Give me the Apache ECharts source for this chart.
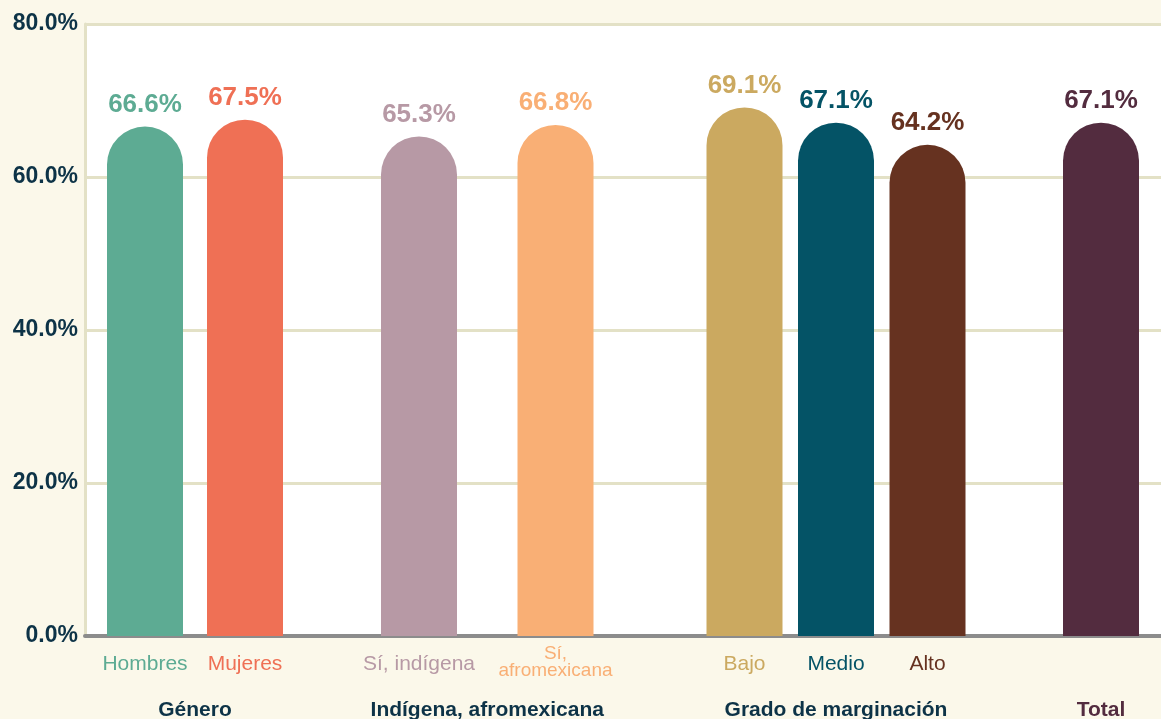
<!DOCTYPE html>
<html>
<head>
<meta charset="utf-8">
<script src="https://cdn.jsdelivr.net/npm/echarts@6/dist/echarts.min.js"></script>
<style>
html,body{margin:0;padding:0;background:#fbf8ea;}
#c{width:1161px;height:719px;}
</style>
</head>
<body>
<div id="c"></div>
<script>
// ---- data ----
const categories = ['Hombres','Mujeres','Sí, indígena','Sí, afromexicana','Bajo','Medio','Alto','Total'];
const values = [66.6, 67.5, 65.3, 66.8, 69.1, 67.1, 64.2, 67.1];
const categoryGroup = [0, 0, 1, 1, 2, 2, 2, 3];
const groupNames = ['Género','Indígena, afromexicana','Grado de marginación','Total'];
const yTicks = [0, 20, 40, 60, 80];

// ---- styles ----
const barColors = ['#5dab93','#ef7055','#b799a5','#f9af75','#cba960','#045366','#663220','#532c3f'];
const groupColors = ['#0d3347','#0d3347','#0d3347','#532c3f'];
const groupShowsCategoryLabels = [true, true, true, false];
const groupLayout = [
  {left: 95, width: 200},
  {left: 350.75, width: 273},
  {left: 698.75, width: 274.5},
  {left: 1051, width: 100}
];
const TOP = 24, BOTTOM = 83;

const grids = [{left: 85, right: 0, top: TOP, bottom: BOTTOM, show: true, backgroundColor: '#ffffff', borderWidth: 0, outerBoundsMode: 'none', containLabel: false}];
const xAxes = [{
  gridIndex: 0, type: 'value', min: 0, max: 1,
  axisLine: {show: true, lineStyle: {color: '#8c8c8c', width: 4}},
  axisTick: {show: false}, axisLabel: {show: false}, splitLine: {show: false}
}];
const yAxes = [{
  gridIndex: 0, type: 'value', min: yTicks[0], max: yTicks[yTicks.length-1], interval: yTicks[1]-yTicks[0],
  axisLine: {show: true, lineStyle: {color: '#e3e1c6', width: 3}},
  axisTick: {show: false},
  splitLine: {show: true, lineStyle: {color: '#e3e1c6', width: 3}},
  axisLabel: {
    formatter: v => v.toFixed(1) + '%', margin: 7, padding: [3, 0, 0, 0],
    color: '#0d3347', fontFamily: 'Liberation Sans', fontWeight: 'bold', fontSize: 23
  }
}];
const series = [];

groupNames.forEach((g, gi) => {
  const idx = categories.map((c, i) => i).filter(i => categoryGroup[i] === gi);
  grids.push({left: groupLayout[gi].left, width: groupLayout[gi].width, top: TOP, bottom: BOTTOM, outerBoundsMode: 'none', containLabel: false});
  xAxes.push({
    gridIndex: gi + 1, type: 'category',
    data: idx.map(i => {
      const long = categories[i].length > 14;
      return {
        value: categories[i],
        textStyle: long
          ? {color: barColors[i], fontSize: 19, lineHeight: 17, verticalAlign: 'middle'}
          : {color: barColors[i]}
      };
    }),
    axisLine: {show: false}, axisTick: {show: false}, splitLine: {show: false},
    axisLabel: {
      show: groupShowsCategoryLabels[gi],
      interval: 0, margin: 18,
      fontFamily: 'Liberation Sans', fontSize: 21,
      formatter: v => v.length > 14 ? ' \n' + v.replace(', ', ',\n') : v
    },
    name: g, nameLocation: 'middle', nameGap: 64,
    nameTextStyle: {color: groupColors[gi], fontFamily: 'Liberation Sans', fontWeight: 'bold', fontSize: 21}
  });
  yAxes.push({gridIndex: gi + 1, type: 'value', min: yTicks[0], max: yTicks[yTicks.length-1], show: false});
  series.push({
    type: 'bar', xAxisIndex: gi + 1, yAxisIndex: gi + 1,
    barWidth: 76,
    data: idx.map(i => ({
      value: values[i],
      itemStyle: {color: barColors[i], borderRadius: [38, 38, 0, 0]},
      label: {color: barColors[i]}
    })),
    label: {
      show: true, position: 'top', distance: 9,
      formatter: p => p.value.toFixed(1) + '%',
      fontFamily: 'Liberation Sans', fontWeight: 'bold', fontSize: 26
    },
    silent: true, animation: false
  });
});

const chart = echarts.init(document.getElementById('c'));
chart.setOption({
  backgroundColor: '#fbf8ea',
  animation: false,
  grid: grids, xAxis: xAxes, yAxis: yAxes, series: series
});
</script>
</body>
</html>
